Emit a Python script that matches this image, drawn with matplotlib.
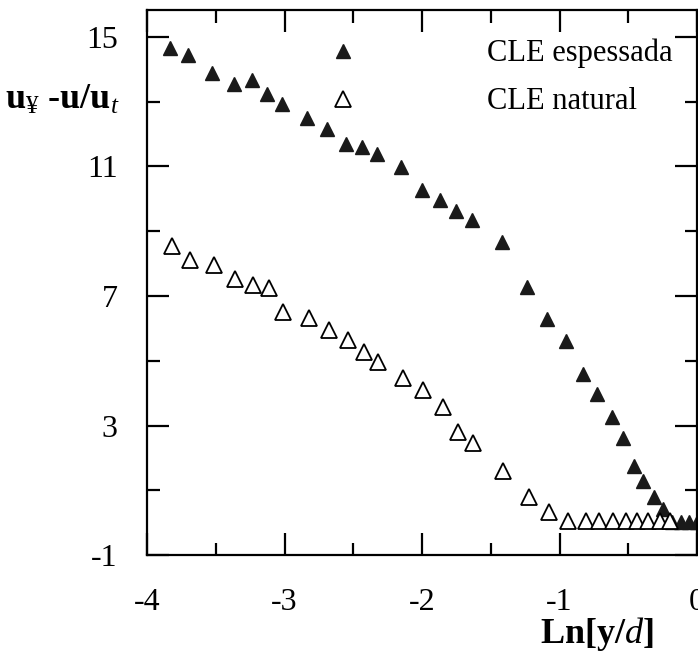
import matplotlib
matplotlib.use('Agg')
import matplotlib.pyplot as plt

plt.rcParams['font.family'] = ['Liberation Serif', 'DejaVu Serif']
plt.rcParams['mathtext.fontset'] = 'custom'
plt.rcParams['mathtext.rm'] = 'Liberation Serif'
plt.rcParams['mathtext.it'] = 'Liberation Serif:italic'
plt.rcParams['mathtext.bf'] = 'Liberation Serif:bold'

# CLE espessada (triangulos cheios)
x_esp = [-3.83, -3.70, -3.53, -3.37, -3.24, -3.13, -3.02, -2.84, -2.69, -2.55,
         -2.44, -2.33, -2.15, -2.00, -1.87, -1.75, -1.64, -1.42, -1.24, -1.09,
         -0.95, -0.83, -0.73, -0.62, -0.54, -0.46, -0.39, -0.31, -0.25, -0.18,
         -0.12, -0.06, 0.0]
y_esp = [14.66, 14.44, 13.89, 13.55, 13.67, 13.24, 12.93, 12.50, 12.16, 11.70,
         11.60, 11.39, 10.99, 10.28, 9.97, 9.63, 9.35, 8.67, 7.29, 6.30,
         5.60, 4.58, 3.97, 3.27, 2.61, 1.74, 1.30, 0.79, 0.42, 0.02,
         0.02, 0.02, 0.02]

# CLE natural (triangulos vazios)
x_nat = [-3.82, -3.69, -3.51, -3.36, -3.23, -3.11, -3.01, -2.82, -2.68, -2.54,
         -2.42, -2.32, -2.14, -1.99, -1.85, -1.74, -1.63, -1.41, -1.22, -1.08,
         -0.94, -0.81, -0.71, -0.61, -0.52, -0.44, -0.36, -0.27, -0.20]
y_nat = [8.53, 8.12, 7.96, 7.53, 7.35, 7.25, 6.51, 6.33, 5.96, 5.65,
         5.28, 4.97, 4.48, 4.10, 3.58, 2.81, 2.47, 1.60, 0.80, 0.34,
         0.05, 0.05, 0.05, 0.05, 0.05, 0.05, 0.05, 0.05, 0.05]

x_ticks = [-4, -3, -2, -1, 0]
x_minor = [-3.5, -2.5, -1.5, -0.5]
y_ticks = [-1, 3, 7, 11, 15]
y_minor = [1, 5, 9, 13]

fig = plt.figure(figsize=(6.98, 6.53), dpi=100)
ax = fig.add_axes([0.2106, 0.150, 0.788, 0.8346])

ax.plot(x_esp, y_esp, '^', color='#1a1a1a', markersize=10.5, markeredgewidth=1,
        label='CLE espessada', linestyle='none')
ax.plot(x_nat, y_nat, '^', markerfacecolor='white', markeredgecolor='black',
        markersize=11, markeredgewidth=1.3, label='CLE natural', linestyle='none')

ax.set_xlim(-4, 0)
ax.set_ylim(-1, 15.83)
ax.set_xticks(x_ticks)
ax.set_xticks(x_minor, minor=True)
ax.set_xticklabels([str(v) for v in x_ticks])
ax.set_yticks(y_ticks)
ax.set_yticks(y_minor, minor=True)
ax.set_yticklabels([str(v) for v in y_ticks])

ax.tick_params(which='both', direction='in', top=True, right=True, width=1.6,
               labelsize=23)
ax.tick_params(which='major', length=16)
ax.tick_params(which='minor', length=9)
ax.tick_params(axis='y', which='major', pad=21)
ax.tick_params(axis='x', which='major', pad=24)
for s in ax.spines.values():
    s.set_linewidth(1.6)

ax.legend(loc='upper right', bbox_to_anchor=(0.955, 0.947), frameon=False,
          fontsize=22, numpoints=1, handlelength=2, handletextpad=3.7,
          labelspacing=0.62, borderpad=0, borderaxespad=0)

fig.text(0.007, 0.846, '$\\mathbf{u}_{¥}\\ \\mathbf{‐u/u}_{t}$', fontsize=26,
         ha='left', va='center')
fig.text(0.937, 0.029, r'$\mathbf{Ln[y/}\mathit{d}\mathbf{]}$', fontsize=26,
         ha='right', va='center')

fig.savefig('out.png', dpi=100)
